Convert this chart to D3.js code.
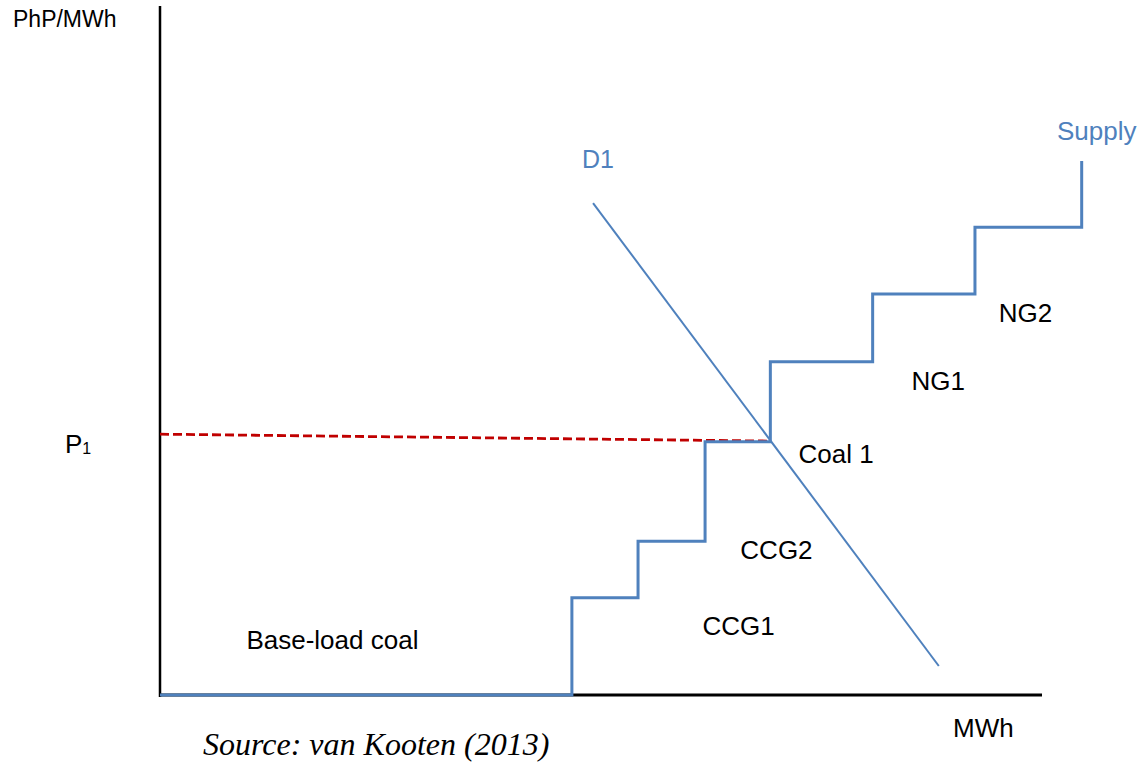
<!DOCTYPE html>
<html>
<head>
<meta charset="utf-8">
<script src="https://cdn.jsdelivr.net/npm/d3@7"></script>
<style>
  body { margin: 0; background: #fff; }
  text { font-family: "Liberation Sans", Arial, sans-serif; }
</style>
</head>
<body>
<svg id="graph"></svg>
<script>
// data (quantity and price in arbitrary chart units, 0-100)
var supplyQ = [0, 46.7, 54.2, 61.8, 69.2, 80.8, 92.4, 104.5]
var supplyP = [0, 14.1, 22.3, 36.7, 48.3, 58.1, 67.8, 77.4]
var demandQ = [49.1, 88.3]
var demandP = [71.3, 4.2]
var priceQ = [0, 69.2]
var priceP = [37.8, 36.8]

// region labels: name, q, p
var labelNames = ["Base-load coal", "CCG1", "CCG2", "Coal 1", "NG1", "NG2"]
var labelQ = [9.8, 61.5, 65.8, 72.4, 85.2, 95.1]
var labelP = [6.7, 8.7, 19.7, 33.6, 44.2, 54.1]

var svg = d3.select('#graph')
	.attr('width', 1142)
	.attr('height', 764)

//scales
var x = d3.scaleLinear().domain([0, 100]).range([160, 1042])
var y = d3.scaleLinear().domain([0, 100]).range([695, 5])

var blue = "#4F81BD"

//axes
svg.append('line')
	.attr('x1', x(0)).attr('x2', x(0))
	.attr('y1', y(100) + 1).attr('y2', y(0) + 2)
	.attr('stroke', '#000').attr('stroke-width', 2.5)

svg.append('line')
	.attr('x1', x(0) - 1).attr('x2', x(100))
	.attr('y1', y(0)).attr('y2', y(0))
	.attr('stroke', '#000').attr('stroke-width', 3)

//price line
var line = d3.line()
	.x(function(d) { return x(d[0]) })
	.y(function(d) { return y(d[1]) })

svg.append('path')
	.datum(d3.zip(priceQ, priceP))
	.attr('d', line)
	.attr('fill', 'none')
	.attr('stroke', '#C00000')
	.attr('stroke-width', 2.8)
	.attr('stroke-dasharray', '9,4')

//demand
svg.append('path')
	.datum(d3.zip(demandQ, demandP))
	.attr('d', line)
	.attr('fill', 'none')
	.attr('stroke', blue)
	.attr('stroke-width', 2)

//supply steps
svg.append('path')
	.datum(d3.zip(supplyQ, supplyP))
	.attr('d', line.curve(d3.curveStepAfter))
	.attr('fill', 'none')
	.attr('stroke', blue)
	.attr('stroke-width', 3)

//labels
svg.selectAll('.region')
	.data(labelNames)
	.enter()
	.append('text')
	.attr('class', 'region')
	.attr('x', function(d, i) { return x(labelQ[i]) })
	.attr('y', function(d, i) { return y(labelP[i]) })
	.attr('font-size', 26)
	.attr('fill', '#000')
	.text(function(d) { return d })

svg.append('text')
	.attr('x', 13).attr('y', 27)
	.attr('font-size', 23)
	.text('PhP/MWh')

var p1 = svg.append('text')
	.attr('x', 65).attr('y', 453)
	.attr('font-size', 26)
p1.append('tspan').text('P')
p1.append('tspan').attr('font-size', 16).attr('dy', 1).text('1')

svg.append('text')
	.attr('x', 953).attr('y', 737)
	.attr('font-size', 26)
	.text('MWh')

svg.append('text')
	.attr('x', 1057).attr('y', 140)
	.attr('font-size', 26)
	.attr('fill', blue)
	.text('Supply')

svg.append('text')
	.attr('x', 582).attr('y', 168)
	.attr('font-size', 25)
	.attr('fill', blue)
	.text('D1')

svg.append('text')
	.attr('x', 203).attr('y', 755)
	.attr('font-size', 32)
	.attr('font-style', 'italic')
	.style('font-family', '"Liberation Serif", "Times New Roman", serif')
	.text('Source: van Kooten (2013)')
</script>
</body>
</html>
